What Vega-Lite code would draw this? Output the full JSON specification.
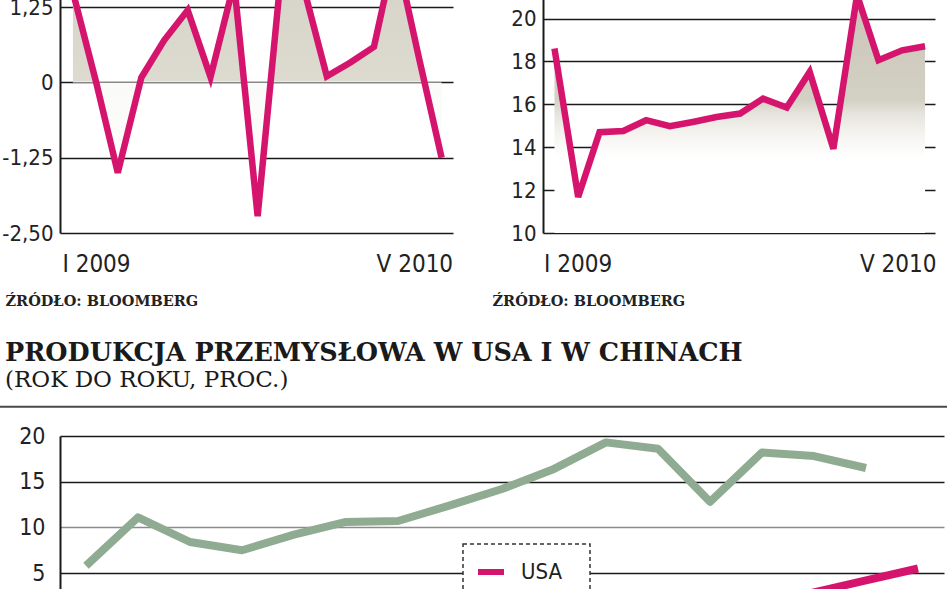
{
  "$schema": "https://vega.github.io/schema/vega-lite/v6.json",
  "autosize": {"type": "pad"},
  "padding": {"left": -2, "top": -20, "right": 1, "bottom": -176},
  "background": "white",
  "config": {
    "view": {"stroke": null},
    "font": "DejaVu Sans",
    "legend": {"strokeColor": "#333333", "strokeDash": [4, 3], "strokeWidth": 1.5, "fillColor": "white"}
  },
  "spacing": 33,
  "bounds": "full",
  "vconcat": [
    {
      "spacing": 90,
      "bounds": "flush",
      "hconcat": [
        {
          "width": 393,
          "height": 253,
          "data": {"values": [
            {"miesiac": "2009-01-01", "wartosc": 1.5},
            {"miesiac": "2009-02-01", "wartosc": -0.02},
            {"miesiac": "2009-03-01", "wartosc": -1.5},
            {"miesiac": "2009-04-01", "wartosc": 0.08},
            {"miesiac": "2009-05-01", "wartosc": 0.7},
            {"miesiac": "2009-06-01", "wartosc": 1.2},
            {"miesiac": "2009-07-01", "wartosc": 0.09},
            {"miesiac": "2009-08-01", "wartosc": 1.65},
            {"miesiac": "2009-09-01", "wartosc": -2.22},
            {"miesiac": "2009-10-01", "wartosc": 1.7},
            {"miesiac": "2009-11-01", "wartosc": 1.55},
            {"miesiac": "2009-12-01", "wartosc": 0.1},
            {"miesiac": "2010-01-01", "wartosc": 0.33},
            {"miesiac": "2010-02-01", "wartosc": 0.59},
            {"miesiac": "2010-03-01", "wartosc": 2.2},
            {"miesiac": "2010-04-01", "wartosc": 0.42},
            {"miesiac": "2010-05-01", "wartosc": -1.25}
          ]},
          "encoding": {
            "x": {"field": "miesiac", "type": "temporal",
              "scale": {"domain": [{"year": 2008, "month": 12, "date": 15, "utc": true}, {"year": 2010, "month": 5, "date": 16, "utc": true}]},
              "axis": {
                "values": [{"year": 2009, "month": 1, "date": 1, "utc": true}, {"year": 2010, "month": 5, "date": 1, "utc": true}],
                "labelExpr": "['I','II','III','IV','V','VI','VII','VIII','IX','X','XI','XII'][utcmonth(datum.value)] + ' ' + utcyear(datum.value)",
                "labelFlush": 20, "labelFlushOffset": 11, "labelOverlap": false,
                "labelFont": "'DejaVu Sans Condensed', Roboto, sans-serif", "labelFontSize": 24, "labelColor": "#222222", "labelPadding": 19,
                "ticks": false, "domain": false, "grid": false,
                "title": "ŹRÓDŁO: BLOOMBERG", "titleX": -55, "titleY": 72, "titleAlign": "left", "titleBaseline": "alphabetic", "titleAnchor": "start",
                "titleFont": "DejaVu Serif", "titleFontSize": 14.5, "titleFontWeight": "bold", "titleColor": "#222222"
              }},
            "y": {"field": "wartosc", "type": "quantitative",
              "scale": {"domain": [-2.5, 1.7], "nice": false, "zero": false},
              "axis": {
                "values": [-2.5, -1.25, 0, 1.25],
                "labelExpr": "datum.value == 0 ? '0' : replace(replace(format(datum.value, '.2f'), '.', ','), '\u2212', '-')",
                "labelFont": "'DejaVu Sans Condensed', Roboto, sans-serif", "labelFontSize": 22, "labelColor": "#222222", "labelPadding": 7,
                "ticks": false, "domain": true, "domainColor": "#1a1a1a", "domainWidth": 2,
                "grid": true, "gridColor": "#1a1a1a", "gridWidth": 1.6, "gridOpacity": 1, "title": null
              }}
          },
          "layer": [
            {
              "mark": {"type": "area", "clip": true, "color": {"gradient": "linear", "x1": 0, "y1": 0, "x2": 0, "y2": 1, "stops": [
                {"offset": 0, "color": "#d4d1c5"},
                {"offset": 0.49, "color": "#dddad0"},
                {"offset": 0.5, "color": "#fafaf8"},
                {"offset": 1, "color": "#ffffff"}
              ]}},
              "encoding": {"y2": {"datum": 0}}
            },
            {
              "data": {"values": [{}]},
              "mark": {"type": "rule", "color": "#333333", "strokeWidth": 1, "strokeDash": [2, 2]},
              "encoding": {
                "x": {"datum": {"year": 2009, "month": 12, "date": 8, "utc": true}, "type": "temporal"},
                "y": {"datum": -2.5, "type": "quantitative"},
                "y2": {"datum": 1.7}
              }
            },
            {
              "mark": {"type": "line", "clip": true, "color": "#d5156d", "strokeWidth": 6.5}
            }
          ]
        },
        {
          "width": 392,
          "height": 253,
          "data": {"values": [
            {"miesiac": "2009-01-01", "wartosc": 18.6},
            {"miesiac": "2009-02-01", "wartosc": 11.68},
            {"miesiac": "2009-03-01", "wartosc": 14.7},
            {"miesiac": "2009-04-01", "wartosc": 14.76},
            {"miesiac": "2009-05-01", "wartosc": 15.26},
            {"miesiac": "2009-06-01", "wartosc": 14.98},
            {"miesiac": "2009-07-01", "wartosc": 15.18},
            {"miesiac": "2009-08-01", "wartosc": 15.41},
            {"miesiac": "2009-09-01", "wartosc": 15.57},
            {"miesiac": "2009-10-01", "wartosc": 16.27},
            {"miesiac": "2009-11-01", "wartosc": 15.85},
            {"miesiac": "2009-12-01", "wartosc": 17.51},
            {"miesiac": "2010-01-01", "wartosc": 13.93},
            {"miesiac": "2010-02-01", "wartosc": 21.1},
            {"miesiac": "2010-03-01", "wartosc": 18.06},
            {"miesiac": "2010-04-01", "wartosc": 18.52},
            {"miesiac": "2010-05-01", "wartosc": 18.71}
          ]},
          "encoding": {
            "x": {"field": "miesiac", "type": "temporal",
              "scale": {"domain": [{"year": 2008, "month": 12, "date": 17, "utc": true}, {"year": 2010, "month": 5, "date": 14, "utc": true}]},
              "axis": {
                "values": [{"year": 2009, "month": 1, "date": 1, "utc": true}, {"year": 2010, "month": 5, "date": 1, "utc": true}],
                "labelExpr": "['I','II','III','IV','V','VI','VII','VIII','IX','X','XI','XII'][utcmonth(datum.value)] + ' ' + utcyear(datum.value)",
                "labelFlush": 20, "labelFlushOffset": 11, "labelOverlap": false,
                "labelFont": "'DejaVu Sans Condensed', Roboto, sans-serif", "labelFontSize": 24, "labelColor": "#222222", "labelPadding": 19,
                "ticks": false, "domain": false, "grid": false,
                "title": "ŹRÓDŁO: BLOOMBERG", "titleX": -51, "titleY": 72, "titleAlign": "left", "titleBaseline": "alphabetic", "titleAnchor": "start",
                "titleFont": "DejaVu Serif", "titleFontSize": 14.5, "titleFontWeight": "bold", "titleColor": "#222222"
              }},
            "y": {"field": "wartosc", "type": "quantitative",
              "scale": {"domain": [10, 21.8], "nice": false, "zero": false},
              "axis": {
                "values": [10, 12, 14, 16, 18, 20],
                "labelFont": "'DejaVu Sans Condensed', Roboto, sans-serif", "labelFontSize": 22, "labelColor": "#222222", "labelPadding": 7,
                "ticks": false, "domain": true, "domainColor": "#1a1a1a", "domainWidth": 2,
                "grid": true, "gridColor": "#1a1a1a", "gridWidth": 1.6, "gridOpacity": 1, "title": null
              }}
          },
          "layer": [
            {
              "mark": {"type": "area", "clip": true, "color": {"gradient": "linear", "x1": 0, "y1": 0, "x2": 0, "y2": 1, "stops": [
                {"offset": 0, "color": "#c9c5b8"},
                {"offset": 0.44, "color": "#d3d0c4"},
                {"offset": 0.5, "color": "#e6e4dd"},
                {"offset": 0.58, "color": "#f4f3ef"},
                {"offset": 0.68, "color": "#ffffff"},
                {"offset": 1, "color": "#ffffff"}
              ]}},
              "encoding": {"y2": {"datum": 10}}
            },
            {
              "data": {"values": [{}]},
              "mark": {"type": "rule", "color": "#333333", "strokeWidth": 1, "strokeDash": [2, 2]},
              "encoding": {
                "x": {"datum": {"year": 2009, "month": 12, "date": 8, "utc": true}, "type": "temporal"},
                "y": {"datum": 10, "type": "quantitative"},
                "y2": {"datum": 21.8}
              }
            },
            {
              "mark": {"type": "line", "clip": true, "color": "#d5156d", "strokeWidth": 6.5}
            }
          ]
        }
      ]
    },
    {
      "width": 884,
      "height": 329,
      "title": {
        "text": "PRODUKCJA PRZEMYSŁOWA W USA I W CHINACH",
        "subtitle": "(ROK DO ROKU, PROC.)",
        "anchor": "start", "frame": "group", "dx": -55, "offset": 14,
        "font": "DejaVu Serif", "fontSize": 25.5, "fontWeight": "bold", "color": "#1a1a1a",
        "subtitleFont": "DejaVu Serif", "subtitleFontSize": 23, "subtitleColor": "#1a1a1a", "subtitlePadding": 2
      },
      "encoding": {
        "y": {"field": "wartosc", "type": "quantitative",
          "scale": {"domain": [-16, 20], "nice": false, "zero": false},
          "axis": {
            "values": [5, 10, 15, 20],
            "labelFont": "'DejaVu Sans Condensed', Roboto, sans-serif", "labelFontSize": 23, "labelColor": "#222222", "labelPadding": 15,
            "ticks": false, "domain": true, "domainColor": "#1a1a1a", "domainWidth": 2,
            "grid": true, "gridWidth": 1.6, "gridOpacity": 1,
            "gridColor": {"condition": {"test": "datum.value === 10", "value": "#8c8c8c"}, "value": "#1a1a1a"},
            "title": null
          }}
      },
      "layer": [
        {
          "data": {"values": [
            {"okres": "I 2009", "kraj": "USA", "wartosc": -10.8},
            {"okres": "II 2009", "kraj": "USA", "wartosc": -12.1},
            {"okres": "III 2009", "kraj": "USA", "wartosc": -12.9},
            {"okres": "IV 2009", "kraj": "USA", "wartosc": -13.1},
            {"okres": "V 2009", "kraj": "USA", "wartosc": -13.4},
            {"okres": "VI 2009", "kraj": "USA", "wartosc": -13.5},
            {"okres": "VII 2009", "kraj": "USA", "wartosc": -12.9},
            {"okres": "VIII 2009", "kraj": "USA", "wartosc": -11.4},
            {"okres": "IX 2009", "kraj": "USA", "wartosc": -9.9},
            {"okres": "X 2009", "kraj": "USA", "wartosc": -8.1},
            {"okres": "XI 2009", "kraj": "USA", "wartosc": -6.3},
            {"okres": "XII 2009", "kraj": "USA", "wartosc": -3.7},
            {"okres": "I 2010", "kraj": "USA", "wartosc": -1.6},
            {"okres": "II 2010", "kraj": "USA", "wartosc": 0.9},
            {"okres": "III 2010", "kraj": "USA", "wartosc": 2.9},
            {"okres": "IV 2010", "kraj": "USA", "wartosc": 4.2},
            {"okres": "V 2010", "kraj": "USA", "wartosc": 5.5},
            {"okres": "I 2009", "kraj": "Chiny", "wartosc": 5.8},
            {"okres": "II 2009", "kraj": "Chiny", "wartosc": 11.1},
            {"okres": "III 2009", "kraj": "Chiny", "wartosc": 8.4},
            {"okres": "IV 2009", "kraj": "Chiny", "wartosc": 7.5},
            {"okres": "V 2009", "kraj": "Chiny", "wartosc": 9.2},
            {"okres": "VI 2009", "kraj": "Chiny", "wartosc": 10.6},
            {"okres": "VII 2009", "kraj": "Chiny", "wartosc": 10.7},
            {"okres": "VIII 2009", "kraj": "Chiny", "wartosc": 12.4},
            {"okres": "IX 2009", "kraj": "Chiny", "wartosc": 14.2},
            {"okres": "X 2009", "kraj": "Chiny", "wartosc": 16.4},
            {"okres": "XI 2009", "kraj": "Chiny", "wartosc": 19.3},
            {"okres": "XII 2009", "kraj": "Chiny", "wartosc": 18.6},
            {"okres": "I 2010", "kraj": "Chiny", "wartosc": 12.8},
            {"okres": "II 2010", "kraj": "Chiny", "wartosc": 18.2},
            {"okres": "III 2010", "kraj": "Chiny", "wartosc": 17.8},
            {"okres": "IV 2010", "kraj": "Chiny", "wartosc": 16.5}
          ]},
          "mark": {"type": "line", "clip": true, "strokeWidth": 8, "strokeJoin": "round"},
          "encoding": {
            "x": {"field": "okres", "type": "ordinal", "sort": null, "scale": {"type": "point", "padding": 0.5}, "axis": null},
            "color": {"field": "kraj", "type": "nominal",
              "scale": {"domain": ["USA", "Chiny"], "range": ["#d5156d", "#8fab91"]},
              "legend": {
                "orient": "none", "legendX": 403, "legendY": 564, "title": null,
                "symbolType": "stroke", "symbolSize": 676, "symbolStrokeWidth": 6,
                "labelFont": "'DejaVu Sans Condensed', Roboto, sans-serif", "labelFontSize": 22, "labelColor": "#222222",
                "labelOffset": 14, "padding": 12, "rowPadding": 8
              }}
          }
        },
        {
          "data": {"values": [{"wartosc": 23.2}]},
          "mark": {"type": "rule", "clip": false, "color": "#4a4a4a", "strokeWidth": 2},
          "encoding": {
            "x": {"datum": 0, "type": "quantitative", "scale": {"domain": [0, 1], "range": [-61, 887]}, "axis": null},
            "x2": {"datum": 1}
          }
        }
      ],
      "resolve": {"scale": {"x": "independent"}, "axis": {"x": "independent"}}
    }
  ]
}
